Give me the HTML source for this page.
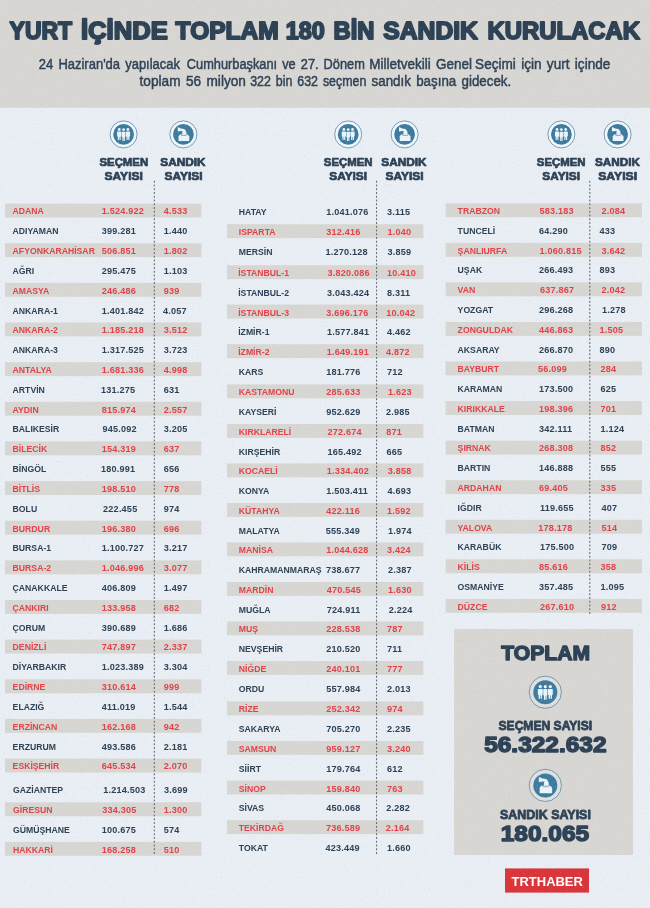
<!DOCTYPE html>
<html lang="tr">
<head>
<meta charset="utf-8">
<title>Yurt içinde toplam 180 bin sandık kurulacak</title>
<style>
html,body{margin:0;padding:0;background:#e8eef3;}
body{width:650px;height:908px;overflow:hidden;}
svg{display:block;will-change:transform;}
text{font-family:"Liberation Sans",sans-serif;font-weight:bold;}
.t{font-size:23.6px;fill:#2e4256;stroke:#2e4256;stroke-width:1.8px;stroke-linejoin:round;}
.s{font-size:15.5px;word-spacing:1.8px;font-weight:normal;fill:#2e4256;stroke:#2e4256;stroke-width:0.5px;}
.h{font-size:11px;fill:#2e4256;stroke:#2e4256;stroke-width:0.7px;stroke-linejoin:round;}
.n{font-size:8.9px;letter-spacing:0.0px;}
.d{font-size:9.1px;letter-spacing:0.2px;}
.big{fill:#2e4256;stroke:#2e4256;stroke-width:1.4px;stroke-linejoin:round;}
.b1{font-size:20.8px;}
.b2{font-size:13.2px;stroke-width:0.8px;}
.b3{font-size:21.2px;}
.trt{font-size:13.6px;fill:#fff;}
</style>
</head>
<body>
<svg width="650" height="908" viewBox="0 0 650 908">
<defs><filter id="nz" x="0" y="0" width="100%" height="100%" color-interpolation-filters="sRGB"><feTurbulence type="fractalNoise" baseFrequency="0.75" numOctaves="2" seed="7"/><feColorMatrix type="matrix" values="0 0 0 0 0.42  0 0 0 0 0.45  0 0 0 0 0.5  6 0 0 0 -3.9"/></filter><filter id="nw" x="0" y="0" width="100%" height="100%" color-interpolation-filters="sRGB"><feTurbulence type="fractalNoise" baseFrequency="0.6" numOctaves="2" seed="23"/><feColorMatrix type="matrix" values="0 0 0 0 1  0 0 0 0 1  0 0 0 0 1  0 6 0 0 -3.9"/></filter></defs>
<rect x="0" y="0" width="650" height="908" fill="#e8eef3"/>
<rect x="0" y="0" width="650" height="107.8" fill="#d8d6d3"/>
<text x="9.60" y="38.60" class="t" textLength="62.51" lengthAdjust="spacingAndGlyphs">YURT</text>
<text x="81.01" y="38.60" class="t" textLength="86.76" lengthAdjust="spacingAndGlyphs">İÇİNDE</text>
<text x="175.64" y="38.60" class="t" textLength="103.07" lengthAdjust="spacingAndGlyphs">TOPLAM</text>
<text x="285.70" y="38.60" class="t" textLength="38.93" lengthAdjust="spacingAndGlyphs">180</text>
<text x="333.63" y="38.60" class="t" textLength="40.86" lengthAdjust="spacingAndGlyphs">BİN</text>
<text x="383.33" y="38.60" class="t" textLength="94.54" lengthAdjust="spacingAndGlyphs">SANDIK</text>
<text x="487.41" y="38.60" class="t" textLength="152.63" lengthAdjust="spacingAndGlyphs">KURULACAK</text>
<text x="38.84" y="69.15" class="s" textLength="141.21" lengthAdjust="spacingAndGlyphs">24 Haziran'da yapılacak</text>
<text x="186.83" y="69.15" class="s" textLength="178.02" lengthAdjust="spacingAndGlyphs">Cumhurbaşkanı ve 27. Dönem</text>
<text x="369.30" y="69.15" class="s" textLength="102.72" lengthAdjust="spacingAndGlyphs">Milletvekili Genel</text>
<text x="475.09" y="69.15" class="s" textLength="135.21" lengthAdjust="spacingAndGlyphs">Seçimi için yurt içinde</text>
<text x="139.56" y="85.55" class="s" textLength="106.43" lengthAdjust="spacingAndGlyphs">toplam 56 milyon</text>
<text x="250.20" y="85.55" class="s" textLength="116.22" lengthAdjust="spacingAndGlyphs">322 bin 632 seçmen</text>
<text x="371.54" y="85.55" class="s" textLength="139.72" lengthAdjust="spacingAndGlyphs">sandık başına gidecek.</text>
<g transform="translate(123.6,134.4)">
<circle r="13.5" fill="#eff8ff" fill-opacity="0.9" stroke="#5b859f" stroke-width="0.8"/>
<g transform="scale(1.0)"><circle r="10.4" fill="#3f7b9d"/>
<g fill="#e9f4fb" transform="scale(1.1)"><g transform="translate(-3.95,0)"><circle cx="0" cy="-4.45" r="1.3"/><path d="M-1.5,-2.55 h3 q0.45,0 0.45,0.5 v3.6 q0,0.45 -0.45,0.45 h-0.2 v3.1 h-1.05 v-2.6 h-0.5 v2.6 h-1.05 v-3.1 h-0.2 q-0.45,0 -0.45,-0.45 v-3.6 q0,-0.5 0.45,-0.5z"/></g><g transform="translate(3.95,0)"><circle cx="0" cy="-4.45" r="1.3"/><path d="M-1.5,-2.55 h3 q0.45,0 0.45,0.5 v3.6 q0,0.45 -0.45,0.45 h-0.2 v3.1 h-1.05 v-2.6 h-0.5 v2.6 h-1.05 v-3.1 h-0.2 q-0.45,0 -0.45,-0.45 v-3.6 q0,-0.5 0.45,-0.5z"/></g><g><circle cx="0" cy="-4.35" r="1.3"/><path d="M-1.2,-2.45 h2.4 q0.4,0 0.4,0.5 v4.2 q0,0.4 -0.4,0.4 h-0.1 v3.3 h-0.95 v-2.8 h-0.3 v2.8 h-0.95 v-3.3 h-0.1 q-0.4,0 -0.4,-0.4 v-4.2 q0,-0.5 0.4,-0.5z"/></g></g>
</g></g>
<g transform="translate(183.4,134.4)">
<circle r="13.5" fill="#eff8ff" fill-opacity="0.9" stroke="#5b859f" stroke-width="0.8"/>
<g transform="scale(1.0)"><circle r="10.4" fill="#3f7b9d"/>
<g fill="#e9f4fb">
<path d="M-3.6,0.2 H4.3 L5.9,2.1 V6.2 q0,0.5 -0.5,0.5 H-4.4 q-0.5,0 -0.5,-0.5 V2.1z"/>
<path d="M-5.6,-7.3 L-2.4,-5.9 L0.8,-5.5 Q2.2,-4.6 3.0,-2.2 V0.3 H-1.2 V-2.6 L-0.3,-3.2 L-2.4,-3.4 L-5.6,-2.9z"/>
</g>
<rect x="-2.3" y="1.0" width="5.6" height="0.5" fill="#3f7b9d"/>
</g></g>
<g transform="translate(348.2,134.4)">
<circle r="13.5" fill="#eff8ff" fill-opacity="0.9" stroke="#5b859f" stroke-width="0.8"/>
<g transform="scale(1.0)"><circle r="10.4" fill="#3f7b9d"/>
<g fill="#e9f4fb" transform="scale(1.1)"><g transform="translate(-3.95,0)"><circle cx="0" cy="-4.45" r="1.3"/><path d="M-1.5,-2.55 h3 q0.45,0 0.45,0.5 v3.6 q0,0.45 -0.45,0.45 h-0.2 v3.1 h-1.05 v-2.6 h-0.5 v2.6 h-1.05 v-3.1 h-0.2 q-0.45,0 -0.45,-0.45 v-3.6 q0,-0.5 0.45,-0.5z"/></g><g transform="translate(3.95,0)"><circle cx="0" cy="-4.45" r="1.3"/><path d="M-1.5,-2.55 h3 q0.45,0 0.45,0.5 v3.6 q0,0.45 -0.45,0.45 h-0.2 v3.1 h-1.05 v-2.6 h-0.5 v2.6 h-1.05 v-3.1 h-0.2 q-0.45,0 -0.45,-0.45 v-3.6 q0,-0.5 0.45,-0.5z"/></g><g><circle cx="0" cy="-4.35" r="1.3"/><path d="M-1.2,-2.45 h2.4 q0.4,0 0.4,0.5 v4.2 q0,0.4 -0.4,0.4 h-0.1 v3.3 h-0.95 v-2.8 h-0.3 v2.8 h-0.95 v-3.3 h-0.1 q-0.4,0 -0.4,-0.4 v-4.2 q0,-0.5 0.4,-0.5z"/></g></g>
</g></g>
<g transform="translate(404.6,134.4)">
<circle r="13.5" fill="#eff8ff" fill-opacity="0.9" stroke="#5b859f" stroke-width="0.8"/>
<g transform="scale(1.0)"><circle r="10.4" fill="#3f7b9d"/>
<g fill="#e9f4fb">
<path d="M-3.6,0.2 H4.3 L5.9,2.1 V6.2 q0,0.5 -0.5,0.5 H-4.4 q-0.5,0 -0.5,-0.5 V2.1z"/>
<path d="M-5.6,-7.3 L-2.4,-5.9 L0.8,-5.5 Q2.2,-4.6 3.0,-2.2 V0.3 H-1.2 V-2.6 L-0.3,-3.2 L-2.4,-3.4 L-5.6,-2.9z"/>
</g>
<rect x="-2.3" y="1.0" width="5.6" height="0.5" fill="#3f7b9d"/>
</g></g>
<g transform="translate(561.4,134.4)">
<circle r="13.5" fill="#eff8ff" fill-opacity="0.9" stroke="#5b859f" stroke-width="0.8"/>
<g transform="scale(1.0)"><circle r="10.4" fill="#3f7b9d"/>
<g fill="#e9f4fb" transform="scale(1.1)"><g transform="translate(-3.95,0)"><circle cx="0" cy="-4.45" r="1.3"/><path d="M-1.5,-2.55 h3 q0.45,0 0.45,0.5 v3.6 q0,0.45 -0.45,0.45 h-0.2 v3.1 h-1.05 v-2.6 h-0.5 v2.6 h-1.05 v-3.1 h-0.2 q-0.45,0 -0.45,-0.45 v-3.6 q0,-0.5 0.45,-0.5z"/></g><g transform="translate(3.95,0)"><circle cx="0" cy="-4.45" r="1.3"/><path d="M-1.5,-2.55 h3 q0.45,0 0.45,0.5 v3.6 q0,0.45 -0.45,0.45 h-0.2 v3.1 h-1.05 v-2.6 h-0.5 v2.6 h-1.05 v-3.1 h-0.2 q-0.45,0 -0.45,-0.45 v-3.6 q0,-0.5 0.45,-0.5z"/></g><g><circle cx="0" cy="-4.35" r="1.3"/><path d="M-1.2,-2.45 h2.4 q0.4,0 0.4,0.5 v4.2 q0,0.4 -0.4,0.4 h-0.1 v3.3 h-0.95 v-2.8 h-0.3 v2.8 h-0.95 v-3.3 h-0.1 q-0.4,0 -0.4,-0.4 v-4.2 q0,-0.5 0.4,-0.5z"/></g></g>
</g></g>
<g transform="translate(617.6,134.4)">
<circle r="13.5" fill="#eff8ff" fill-opacity="0.9" stroke="#5b859f" stroke-width="0.8"/>
<g transform="scale(1.0)"><circle r="10.4" fill="#3f7b9d"/>
<g fill="#e9f4fb">
<path d="M-3.6,0.2 H4.3 L5.9,2.1 V6.2 q0,0.5 -0.5,0.5 H-4.4 q-0.5,0 -0.5,-0.5 V2.1z"/>
<path d="M-5.6,-7.3 L-2.4,-5.9 L0.8,-5.5 Q2.2,-4.6 3.0,-2.2 V0.3 H-1.2 V-2.6 L-0.3,-3.2 L-2.4,-3.4 L-5.6,-2.9z"/>
</g>
<rect x="-2.3" y="1.0" width="5.6" height="0.5" fill="#3f7b9d"/>
</g></g>
<text x="99.46" y="165.70" class="h" textLength="48.70" lengthAdjust="spacingAndGlyphs">SEÇMEN</text>
<text x="104.51" y="180.10" class="h" textLength="38.34" lengthAdjust="spacingAndGlyphs">SAYISI</text>
<text x="160.29" y="165.70" class="h" textLength="45.34" lengthAdjust="spacingAndGlyphs">SANDIK</text>
<text x="164.43" y="180.10" class="h" textLength="38.06" lengthAdjust="spacingAndGlyphs">SAYISI</text>
<text x="323.85" y="165.70" class="h" textLength="48.71" lengthAdjust="spacingAndGlyphs">SEÇMEN</text>
<text x="329.28" y="180.10" class="h" textLength="37.74" lengthAdjust="spacingAndGlyphs">SAYISI</text>
<text x="381.29" y="165.70" class="h" textLength="45.34" lengthAdjust="spacingAndGlyphs">SANDIK</text>
<text x="385.43" y="180.10" class="h" textLength="38.06" lengthAdjust="spacingAndGlyphs">SAYISI</text>
<text x="536.85" y="165.70" class="h" textLength="48.71" lengthAdjust="spacingAndGlyphs">SEÇMEN</text>
<text x="542.28" y="180.10" class="h" textLength="37.74" lengthAdjust="spacingAndGlyphs">SAYISI</text>
<text x="595.04" y="165.70" class="h" textLength="44.88" lengthAdjust="spacingAndGlyphs">SANDIK</text>
<text x="598.25" y="180.10" class="h" textLength="38.81" lengthAdjust="spacingAndGlyphs">SAYISI</text>
<rect x="5.0" y="203.6" width="196.4" height="13.9" fill="#d8d6d2"/>
<rect x="5.0" y="243.2" width="196.4" height="13.9" fill="#d8d6d2"/>
<rect x="5.0" y="282.9" width="196.4" height="13.9" fill="#d8d6d2"/>
<rect x="5.0" y="322.5" width="196.4" height="13.9" fill="#d8d6d2"/>
<rect x="5.0" y="362.2" width="196.4" height="13.9" fill="#d8d6d2"/>
<rect x="5.0" y="401.8" width="196.4" height="13.9" fill="#d8d6d2"/>
<rect x="5.0" y="441.4" width="196.4" height="13.9" fill="#d8d6d2"/>
<rect x="5.0" y="481.1" width="196.4" height="13.9" fill="#d8d6d2"/>
<rect x="5.0" y="520.7" width="196.4" height="13.9" fill="#d8d6d2"/>
<rect x="5.0" y="560.4" width="196.4" height="13.9" fill="#d8d6d2"/>
<rect x="5.0" y="600.0" width="196.4" height="13.9" fill="#d8d6d2"/>
<rect x="5.0" y="639.6" width="196.4" height="13.9" fill="#d8d6d2"/>
<rect x="5.0" y="679.3" width="196.4" height="13.9" fill="#d8d6d2"/>
<rect x="5.0" y="718.9" width="196.4" height="13.9" fill="#d8d6d2"/>
<rect x="5.0" y="758.6" width="196.4" height="13.9" fill="#d8d6d2"/>
<rect x="5.0" y="802.3" width="196.4" height="13.9" fill="#d8d6d2"/>
<rect x="5.0" y="841.9" width="196.4" height="13.9" fill="#d8d6d2"/>
<text transform="translate(12.6,214.4) scale(0.975,1.06)" class="n" fill="#e1424a">ADANA</text>
<text transform="translate(101.7,214.4) scale(1,1.08)" class="d" fill="#e1424a">1.524.922</text>
<text transform="translate(163.7,214.4) scale(1,1.08)" class="d" fill="#e1424a">4.533</text>
<text transform="translate(12.6,234.2) scale(0.975,1.06)" class="n" fill="#2e4256">ADIYAMAN</text>
<text transform="translate(101.7,234.2) scale(1,1.08)" class="d" fill="#2e4256">399.281</text>
<text transform="translate(163.7,234.2) scale(1,1.08)" class="d" fill="#2e4256">1.440</text>
<text transform="translate(12.6,254.0) scale(0.975,1.06)" class="n" fill="#e1424a">AFYONKARAHİSAR</text>
<text transform="translate(101.7,254.0) scale(1,1.08)" class="d" fill="#e1424a">506.851</text>
<text transform="translate(163.7,254.0) scale(1,1.08)" class="d" fill="#e1424a">1.802</text>
<text transform="translate(12.6,273.9) scale(0.975,1.06)" class="n" fill="#2e4256">AĞRI</text>
<text transform="translate(101.7,273.9) scale(1,1.08)" class="d" fill="#2e4256">295.475</text>
<text transform="translate(163.7,273.9) scale(1,1.08)" class="d" fill="#2e4256">1.103</text>
<text transform="translate(12.6,293.7) scale(0.975,1.06)" class="n" fill="#e1424a">AMASYA</text>
<text transform="translate(101.7,293.7) scale(1,1.08)" class="d" fill="#e1424a">246.486</text>
<text transform="translate(163.7,293.7) scale(1,1.08)" class="d" fill="#e1424a">939</text>
<text transform="translate(12.6,313.5) scale(0.975,1.06)" class="n" fill="#2e4256">ANKARA-1</text>
<text transform="translate(101.7,313.5) scale(1,1.08)" class="d" fill="#2e4256">1.401.842</text>
<text transform="translate(162.9,313.5) scale(1,1.08)" class="d" fill="#2e4256">4.057</text>
<text transform="translate(12.6,333.3) scale(0.975,1.06)" class="n" fill="#e1424a">ANKARA-2</text>
<text transform="translate(101.7,333.3) scale(1,1.08)" class="d" fill="#e1424a">1.185.218</text>
<text transform="translate(163.7,333.3) scale(1,1.08)" class="d" fill="#e1424a">3.512</text>
<text transform="translate(12.6,353.1) scale(0.975,1.06)" class="n" fill="#2e4256">ANKARA-3</text>
<text transform="translate(101.7,353.1) scale(1,1.08)" class="d" fill="#2e4256">1.317.525</text>
<text transform="translate(163.7,353.1) scale(1,1.08)" class="d" fill="#2e4256">3.723</text>
<text transform="translate(12.6,373.0) scale(0.975,1.06)" class="n" fill="#e1424a">ANTALYA</text>
<text transform="translate(101.7,373.0) scale(1,1.08)" class="d" fill="#e1424a">1.681.336</text>
<text transform="translate(163.7,373.0) scale(1,1.08)" class="d" fill="#e1424a">4.998</text>
<text transform="translate(12.6,392.8) scale(0.975,1.06)" class="n" fill="#2e4256">ARTVİN</text>
<text transform="translate(101.0,392.8) scale(1,1.08)" class="d" fill="#2e4256">131.275</text>
<text transform="translate(163.7,392.8) scale(1,1.08)" class="d" fill="#2e4256">631</text>
<text transform="translate(12.6,412.6) scale(0.975,1.06)" class="n" fill="#e1424a">AYDIN</text>
<text transform="translate(101.7,412.6) scale(1,1.08)" class="d" fill="#e1424a">815.974</text>
<text transform="translate(163.7,412.6) scale(1,1.08)" class="d" fill="#e1424a">2.557</text>
<text transform="translate(12.6,432.4) scale(0.975,1.06)" class="n" fill="#2e4256">BALIKESİR</text>
<text transform="translate(102.5,432.4) scale(1,1.08)" class="d" fill="#2e4256">945.092</text>
<text transform="translate(163.7,432.4) scale(1,1.08)" class="d" fill="#2e4256">3.205</text>
<text transform="translate(12.6,452.2) scale(0.975,1.06)" class="n" fill="#e1424a">BİLECİK</text>
<text transform="translate(101.7,452.2) scale(1,1.08)" class="d" fill="#e1424a">154.319</text>
<text transform="translate(163.7,452.2) scale(1,1.08)" class="d" fill="#e1424a">637</text>
<text transform="translate(12.6,472.1) scale(0.975,1.06)" class="n" fill="#2e4256">BİNGÖL</text>
<text transform="translate(101.0,472.1) scale(1,1.08)" class="d" fill="#2e4256">180.991</text>
<text transform="translate(163.7,472.1) scale(1,1.08)" class="d" fill="#2e4256">656</text>
<text transform="translate(12.6,491.9) scale(0.975,1.06)" class="n" fill="#e1424a">BİTLİS</text>
<text transform="translate(101.7,491.9) scale(1,1.08)" class="d" fill="#e1424a">198.510</text>
<text transform="translate(163.7,491.9) scale(1,1.08)" class="d" fill="#e1424a">778</text>
<text transform="translate(12.6,511.7) scale(0.975,1.06)" class="n" fill="#2e4256">BOLU</text>
<text transform="translate(103.1,511.7) scale(1,1.08)" class="d" fill="#2e4256">222.455</text>
<text transform="translate(163.7,511.7) scale(1,1.08)" class="d" fill="#2e4256">974</text>
<text transform="translate(12.6,531.5) scale(0.975,1.06)" class="n" fill="#e1424a">BURDUR</text>
<text transform="translate(101.7,531.5) scale(1,1.08)" class="d" fill="#e1424a">196.380</text>
<text transform="translate(163.7,531.5) scale(1,1.08)" class="d" fill="#e1424a">696</text>
<text transform="translate(12.6,551.3) scale(0.975,1.06)" class="n" fill="#2e4256">BURSA-1</text>
<text transform="translate(101.7,551.3) scale(1,1.08)" class="d" fill="#2e4256">1.100.727</text>
<text transform="translate(163.7,551.3) scale(1,1.08)" class="d" fill="#2e4256">3.217</text>
<text transform="translate(12.6,571.2) scale(0.975,1.06)" class="n" fill="#e1424a">BURSA-2</text>
<text transform="translate(101.7,571.2) scale(1,1.08)" class="d" fill="#e1424a">1.046.996</text>
<text transform="translate(163.7,571.2) scale(1,1.08)" class="d" fill="#e1424a">3.077</text>
<text transform="translate(12.6,591.0) scale(0.975,1.06)" class="n" fill="#2e4256">ÇANAKKALE</text>
<text transform="translate(101.7,591.0) scale(1,1.08)" class="d" fill="#2e4256">406.809</text>
<text transform="translate(163.7,591.0) scale(1,1.08)" class="d" fill="#2e4256">1.497</text>
<text transform="translate(12.6,610.8) scale(0.975,1.06)" class="n" fill="#e1424a">ÇANKIRI</text>
<text transform="translate(101.7,610.8) scale(1,1.08)" class="d" fill="#e1424a">133.958</text>
<text transform="translate(163.7,610.8) scale(1,1.08)" class="d" fill="#e1424a">682</text>
<text transform="translate(12.6,630.6) scale(0.975,1.06)" class="n" fill="#2e4256">ÇORUM</text>
<text transform="translate(101.7,630.6) scale(1,1.08)" class="d" fill="#2e4256">390.689</text>
<text transform="translate(163.7,630.6) scale(1,1.08)" class="d" fill="#2e4256">1.686</text>
<text transform="translate(12.6,650.4) scale(0.975,1.06)" class="n" fill="#e1424a">DENİZLİ</text>
<text transform="translate(101.7,650.4) scale(1,1.08)" class="d" fill="#e1424a">747.897</text>
<text transform="translate(163.7,650.4) scale(1,1.08)" class="d" fill="#e1424a">2.337</text>
<text transform="translate(12.6,670.3) scale(0.975,1.06)" class="n" fill="#2e4256">DİYARBAKIR</text>
<text transform="translate(101.7,670.3) scale(1,1.08)" class="d" fill="#2e4256">1.023.389</text>
<text transform="translate(163.7,670.3) scale(1,1.08)" class="d" fill="#2e4256">3.304</text>
<text transform="translate(12.6,690.1) scale(0.975,1.06)" class="n" fill="#e1424a">EDİRNE</text>
<text transform="translate(101.7,690.1) scale(1,1.08)" class="d" fill="#e1424a">310.614</text>
<text transform="translate(163.7,690.1) scale(1,1.08)" class="d" fill="#e1424a">999</text>
<text transform="translate(12.6,709.9) scale(0.975,1.06)" class="n" fill="#2e4256">ELAZIĞ</text>
<text transform="translate(101.7,709.9) scale(1,1.08)" class="d" fill="#2e4256">411.019</text>
<text transform="translate(163.7,709.9) scale(1,1.08)" class="d" fill="#2e4256">1.544</text>
<text transform="translate(12.6,729.7) scale(0.975,1.06)" class="n" fill="#e1424a">ERZİNCAN</text>
<text transform="translate(101.7,729.7) scale(1,1.08)" class="d" fill="#e1424a">162.168</text>
<text transform="translate(163.7,729.7) scale(1,1.08)" class="d" fill="#e1424a">942</text>
<text transform="translate(12.6,749.5) scale(0.975,1.06)" class="n" fill="#2e4256">ERZURUM</text>
<text transform="translate(101.7,749.5) scale(1,1.08)" class="d" fill="#2e4256">493.586</text>
<text transform="translate(163.7,749.5) scale(1,1.08)" class="d" fill="#2e4256">2.181</text>
<text transform="translate(12.6,769.4) scale(0.975,1.06)" class="n" fill="#e1424a">ESKİŞEHİR</text>
<text transform="translate(101.7,769.4) scale(1,1.08)" class="d" fill="#e1424a">645.534</text>
<text transform="translate(163.7,769.4) scale(1,1.08)" class="d" fill="#e1424a">2.070</text>
<text transform="translate(13.0,793.3) scale(0.975,1.06)" class="n" fill="#2e4256">GAZİANTEP</text>
<text transform="translate(103.2,793.3) scale(1,1.08)" class="d" fill="#2e4256">1.214.503</text>
<text transform="translate(164.1,793.3) scale(1,1.08)" class="d" fill="#2e4256">3.699</text>
<text transform="translate(13.0,813.1) scale(0.975,1.06)" class="n" fill="#e1424a">GİRESUN</text>
<text transform="translate(102.3,813.1) scale(1,1.08)" class="d" fill="#e1424a">334.305</text>
<text transform="translate(163.7,813.1) scale(1,1.08)" class="d" fill="#e1424a">1.300</text>
<text transform="translate(13.0,832.9) scale(0.975,1.06)" class="n" fill="#2e4256">GÜMÜŞHANE</text>
<text transform="translate(101.7,832.9) scale(1,1.08)" class="d" fill="#2e4256">100.675</text>
<text transform="translate(163.7,832.9) scale(1,1.08)" class="d" fill="#2e4256">574</text>
<text transform="translate(13.0,852.7) scale(0.975,1.06)" class="n" fill="#e1424a">HAKKARİ</text>
<text transform="translate(101.7,852.7) scale(1,1.08)" class="d" fill="#e1424a">168.258</text>
<text transform="translate(163.7,852.7) scale(1,1.08)" class="d" fill="#e1424a">510</text>
<rect x="227.0" y="224.2" width="196.4" height="13.9" fill="#d8d6d2"/>
<rect x="227.0" y="265.2" width="196.4" height="13.9" fill="#d8d6d2"/>
<rect x="227.0" y="304.6" width="196.4" height="13.9" fill="#d8d6d2"/>
<rect x="227.0" y="344.2" width="196.4" height="13.9" fill="#d8d6d2"/>
<rect x="227.0" y="384.4" width="196.4" height="13.9" fill="#d8d6d2"/>
<rect x="227.0" y="424.0" width="196.4" height="13.9" fill="#d8d6d2"/>
<rect x="227.0" y="463.4" width="196.4" height="13.9" fill="#d8d6d2"/>
<rect x="227.0" y="503.0" width="196.4" height="13.9" fill="#d8d6d2"/>
<rect x="227.0" y="542.4" width="196.4" height="13.9" fill="#d8d6d2"/>
<rect x="227.0" y="582.0" width="196.4" height="13.9" fill="#d8d6d2"/>
<rect x="227.0" y="621.4" width="196.4" height="13.9" fill="#d8d6d2"/>
<rect x="227.0" y="661.0" width="196.4" height="13.9" fill="#d8d6d2"/>
<rect x="227.0" y="701.4" width="196.4" height="13.9" fill="#d8d6d2"/>
<rect x="227.0" y="741.0" width="196.4" height="13.9" fill="#d8d6d2"/>
<rect x="227.0" y="780.6" width="196.4" height="13.9" fill="#d8d6d2"/>
<rect x="227.0" y="820.2" width="196.4" height="13.9" fill="#d8d6d2"/>
<text transform="translate(238.8,215.1) scale(0.975,1.06)" class="n" fill="#2e4256">HATAY</text>
<text transform="translate(326.3,215.1) scale(1,1.08)" class="d" fill="#2e4256">1.041.076</text>
<text transform="translate(387.1,215.1) scale(1,1.08)" class="d" fill="#2e4256">3.115</text>
<text transform="translate(238.8,235.1) scale(0.975,1.06)" class="n" fill="#e1424a">ISPARTA</text>
<text transform="translate(326.3,235.1) scale(1,1.08)" class="d" fill="#e1424a">312.416</text>
<text transform="translate(387.6,235.1) scale(1,1.08)" class="d" fill="#e1424a">1.040</text>
<text transform="translate(238.8,254.5) scale(0.975,1.06)" class="n" fill="#2e4256">MERSİN</text>
<text transform="translate(325.4,254.5) scale(1,1.08)" class="d" fill="#2e4256">1.270.128</text>
<text transform="translate(387.6,254.5) scale(1,1.08)" class="d" fill="#2e4256">3.859</text>
<text transform="translate(238.2,276.1) scale(0.975,1.06)" class="n" fill="#e1424a">İSTANBUL-1</text>
<text transform="translate(327.6,276.1) scale(1,1.08)" class="d" fill="#e1424a">3.820.086</text>
<text transform="translate(387.1,276.1) scale(1,1.08)" class="d" fill="#e1424a">10.410</text>
<text transform="translate(238.2,295.5) scale(0.975,1.06)" class="n" fill="#2e4256">İSTANBUL-2</text>
<text transform="translate(326.9,295.5) scale(1,1.08)" class="d" fill="#2e4256">3.043.424</text>
<text transform="translate(387.1,295.5) scale(1,1.08)" class="d" fill="#2e4256">8.311</text>
<text transform="translate(238.2,315.5) scale(0.975,1.06)" class="n" fill="#e1424a">İSTANBUL-3</text>
<text transform="translate(326.3,315.5) scale(1,1.08)" class="d" fill="#e1424a">3.696.176</text>
<text transform="translate(386.3,315.5) scale(1,1.08)" class="d" fill="#e1424a">10.042</text>
<text transform="translate(238.2,335.1) scale(0.975,1.06)" class="n" fill="#2e4256">İZMİR-1</text>
<text transform="translate(327.1,335.1) scale(1,1.08)" class="d" fill="#2e4256">1.577.841</text>
<text transform="translate(387.1,335.1) scale(1,1.08)" class="d" fill="#2e4256">4.462</text>
<text transform="translate(238.2,355.1) scale(0.975,1.06)" class="n" fill="#e1424a">İZMİR-2</text>
<text transform="translate(326.8,355.1) scale(1,1.08)" class="d" fill="#e1424a">1.649.191</text>
<text transform="translate(386.1,355.1) scale(1,1.08)" class="d" fill="#e1424a">4.872</text>
<text transform="translate(238.8,374.9) scale(0.975,1.06)" class="n" fill="#2e4256">KARS</text>
<text transform="translate(326.3,374.9) scale(1,1.08)" class="d" fill="#2e4256">181.776</text>
<text transform="translate(387.1,374.9) scale(1,1.08)" class="d" fill="#2e4256">712</text>
<text transform="translate(238.8,395.3) scale(0.975,1.06)" class="n" fill="#e1424a">KASTAMONU</text>
<text transform="translate(326.3,395.3) scale(1,1.08)" class="d" fill="#e1424a">285.633</text>
<text transform="translate(388.0,395.3) scale(1,1.08)" class="d" fill="#e1424a">1.623</text>
<text transform="translate(238.8,414.9) scale(0.975,1.06)" class="n" fill="#2e4256">KAYSERİ</text>
<text transform="translate(326.3,414.9) scale(1,1.08)" class="d" fill="#2e4256">952.629</text>
<text transform="translate(386.1,414.9) scale(1,1.08)" class="d" fill="#2e4256">2.985</text>
<text transform="translate(238.8,434.9) scale(0.975,1.06)" class="n" fill="#e1424a">KIRKLARELİ</text>
<text transform="translate(327.4,434.9) scale(1,1.08)" class="d" fill="#e1424a">272.674</text>
<text transform="translate(386.2,434.9) scale(1,1.08)" class="d" fill="#e1424a">871</text>
<text transform="translate(238.8,454.5) scale(0.975,1.06)" class="n" fill="#2e4256">KIRŞEHİR</text>
<text transform="translate(327.4,454.5) scale(1,1.08)" class="d" fill="#2e4256">165.492</text>
<text transform="translate(386.6,454.5) scale(1,1.08)" class="d" fill="#2e4256">665</text>
<text transform="translate(238.8,474.3) scale(0.975,1.06)" class="n" fill="#e1424a">KOCAELİ</text>
<text transform="translate(326.7,474.3) scale(1,1.08)" class="d" fill="#e1424a">1.334.402</text>
<text transform="translate(387.8,474.3) scale(1,1.08)" class="d" fill="#e1424a">3.858</text>
<text transform="translate(238.8,493.9) scale(0.975,1.06)" class="n" fill="#2e4256">KONYA</text>
<text transform="translate(326.3,493.9) scale(1,1.08)" class="d" fill="#2e4256">1.503.411</text>
<text transform="translate(387.6,493.9) scale(1,1.08)" class="d" fill="#2e4256">4.693</text>
<text transform="translate(238.8,513.9) scale(0.975,1.06)" class="n" fill="#e1424a">KÜTAHYA</text>
<text transform="translate(326.3,513.9) scale(1,1.08)" class="d" fill="#e1424a">422.116</text>
<text transform="translate(387.1,513.9) scale(1,1.08)" class="d" fill="#e1424a">1.592</text>
<text transform="translate(238.8,533.7) scale(0.975,1.06)" class="n" fill="#2e4256">MALATYA</text>
<text transform="translate(325.8,533.7) scale(1,1.08)" class="d" fill="#2e4256">555.349</text>
<text transform="translate(387.9,533.7) scale(1,1.08)" class="d" fill="#2e4256">1.974</text>
<text transform="translate(238.8,553.3) scale(0.975,1.06)" class="n" fill="#e1424a">MANİSA</text>
<text transform="translate(326.3,553.3) scale(1,1.08)" class="d" fill="#e1424a">1.044.628</text>
<text transform="translate(387.1,553.3) scale(1,1.08)" class="d" fill="#e1424a">3.424</text>
<text transform="translate(238.8,572.9) scale(0.975,1.06)" class="n" fill="#2e4256">KAHRAMANMARAŞ</text>
<text transform="translate(325.9,572.9) scale(1,1.08)" class="d" fill="#2e4256">738.677</text>
<text transform="translate(388.0,572.9) scale(1,1.08)" class="d" fill="#2e4256">2.387</text>
<text transform="translate(238.8,592.9) scale(0.975,1.06)" class="n" fill="#e1424a">MARDİN</text>
<text transform="translate(326.8,592.9) scale(1,1.08)" class="d" fill="#e1424a">470.545</text>
<text transform="translate(388.0,592.9) scale(1,1.08)" class="d" fill="#e1424a">1.630</text>
<text transform="translate(238.8,612.5) scale(0.975,1.06)" class="n" fill="#2e4256">MUĞLA</text>
<text transform="translate(326.8,612.5) scale(1,1.08)" class="d" fill="#2e4256">724.911</text>
<text transform="translate(388.7,612.5) scale(1,1.08)" class="d" fill="#2e4256">2.224</text>
<text transform="translate(238.8,632.3) scale(0.975,1.06)" class="n" fill="#e1424a">MUŞ</text>
<text transform="translate(326.3,632.3) scale(1,1.08)" class="d" fill="#e1424a">228.538</text>
<text transform="translate(387.1,632.3) scale(1,1.08)" class="d" fill="#e1424a">787</text>
<text transform="translate(238.8,652.1) scale(0.975,1.06)" class="n" fill="#2e4256">NEVŞEHİR</text>
<text transform="translate(326.3,652.1) scale(1,1.08)" class="d" fill="#2e4256">210.520</text>
<text transform="translate(387.1,652.1) scale(1,1.08)" class="d" fill="#2e4256">711</text>
<text transform="translate(238.8,671.9) scale(0.975,1.06)" class="n" fill="#e1424a">NİĞDE</text>
<text transform="translate(326.3,671.9) scale(1,1.08)" class="d" fill="#e1424a">240.101</text>
<text transform="translate(387.1,671.9) scale(1,1.08)" class="d" fill="#e1424a">777</text>
<text transform="translate(238.8,691.5) scale(0.975,1.06)" class="n" fill="#2e4256">ORDU</text>
<text transform="translate(326.3,691.5) scale(1,1.08)" class="d" fill="#2e4256">557.984</text>
<text transform="translate(387.1,691.5) scale(1,1.08)" class="d" fill="#2e4256">2.013</text>
<text transform="translate(238.8,712.3) scale(0.975,1.06)" class="n" fill="#e1424a">RİZE</text>
<text transform="translate(326.3,712.3) scale(1,1.08)" class="d" fill="#e1424a">252.342</text>
<text transform="translate(387.1,712.3) scale(1,1.08)" class="d" fill="#e1424a">974</text>
<text transform="translate(238.8,732.3) scale(0.975,1.06)" class="n" fill="#2e4256">SAKARYA</text>
<text transform="translate(326.3,732.3) scale(1,1.08)" class="d" fill="#2e4256">705.270</text>
<text transform="translate(387.1,732.3) scale(1,1.08)" class="d" fill="#2e4256">2.235</text>
<text transform="translate(238.8,751.9) scale(0.975,1.06)" class="n" fill="#e1424a">SAMSUN</text>
<text transform="translate(326.3,751.9) scale(1,1.08)" class="d" fill="#e1424a">959.127</text>
<text transform="translate(387.1,751.9) scale(1,1.08)" class="d" fill="#e1424a">3.240</text>
<text transform="translate(238.8,771.5) scale(0.975,1.06)" class="n" fill="#2e4256">SİİRT</text>
<text transform="translate(326.3,771.5) scale(1,1.08)" class="d" fill="#2e4256">179.764</text>
<text transform="translate(387.1,771.5) scale(1,1.08)" class="d" fill="#2e4256">612</text>
<text transform="translate(238.8,791.5) scale(0.975,1.06)" class="n" fill="#e1424a">SİNOP</text>
<text transform="translate(326.3,791.5) scale(1,1.08)" class="d" fill="#e1424a">159.840</text>
<text transform="translate(387.1,791.5) scale(1,1.08)" class="d" fill="#e1424a">763</text>
<text transform="translate(238.8,811.1) scale(0.975,1.06)" class="n" fill="#2e4256">SİVAS</text>
<text transform="translate(326.3,811.1) scale(1,1.08)" class="d" fill="#2e4256">450.068</text>
<text transform="translate(386.3,811.1) scale(1,1.08)" class="d" fill="#2e4256">2.282</text>
<text transform="translate(238.8,831.1) scale(0.975,1.06)" class="n" fill="#e1424a">TEKİRDAĞ</text>
<text transform="translate(325.9,831.1) scale(1,1.08)" class="d" fill="#e1424a">736.589</text>
<text transform="translate(385.8,831.1) scale(1,1.08)" class="d" fill="#e1424a">2.164</text>
<text transform="translate(238.8,850.9) scale(0.975,1.06)" class="n" fill="#2e4256">TOKAT</text>
<text transform="translate(325.5,850.9) scale(1,1.08)" class="d" fill="#2e4256">423.449</text>
<text transform="translate(387.1,850.9) scale(1,1.08)" class="d" fill="#2e4256">1.660</text>
<rect x="445.6" y="203.3" width="196.4" height="13.9" fill="#d8d6d2"/>
<rect x="445.6" y="242.9" width="196.4" height="13.9" fill="#d8d6d2"/>
<rect x="445.6" y="282.4" width="196.4" height="13.9" fill="#d8d6d2"/>
<rect x="445.6" y="322.0" width="196.4" height="13.9" fill="#d8d6d2"/>
<rect x="445.6" y="361.5" width="196.4" height="13.9" fill="#d8d6d2"/>
<rect x="445.6" y="401.1" width="196.4" height="13.9" fill="#d8d6d2"/>
<rect x="445.6" y="440.7" width="196.4" height="13.9" fill="#d8d6d2"/>
<rect x="445.6" y="480.2" width="196.4" height="13.9" fill="#d8d6d2"/>
<rect x="445.6" y="519.8" width="196.4" height="13.9" fill="#d8d6d2"/>
<rect x="445.6" y="559.3" width="196.4" height="13.9" fill="#d8d6d2"/>
<rect x="445.6" y="598.9" width="196.4" height="13.9" fill="#d8d6d2"/>
<text transform="translate(457.6,214.0) scale(0.975,1.06)" class="n" fill="#e1424a">TRABZON</text>
<text transform="translate(539.4,214.0) scale(1,1.08)" class="d" fill="#e1424a">583.183</text>
<text transform="translate(601.6,214.0) scale(1,1.08)" class="d" fill="#e1424a">2.084</text>
<text transform="translate(457.6,233.8) scale(0.975,1.06)" class="n" fill="#2e4256">TUNCELİ</text>
<text transform="translate(539.0,233.8) scale(1,1.08)" class="d" fill="#2e4256">64.290</text>
<text transform="translate(599.6,233.8) scale(1,1.08)" class="d" fill="#2e4256">433</text>
<text transform="translate(457.6,253.6) scale(0.975,1.06)" class="n" fill="#e1424a">ŞANLIURFA</text>
<text transform="translate(539.4,253.6) scale(1,1.08)" class="d" fill="#e1424a">1.060.815</text>
<text transform="translate(601.6,253.6) scale(1,1.08)" class="d" fill="#e1424a">3.642</text>
<text transform="translate(457.6,273.3) scale(0.975,1.06)" class="n" fill="#2e4256">UŞAK</text>
<text transform="translate(539.0,273.3) scale(1,1.08)" class="d" fill="#2e4256">266.493</text>
<text transform="translate(599.6,273.3) scale(1,1.08)" class="d" fill="#2e4256">893</text>
<text transform="translate(457.6,293.1) scale(0.975,1.06)" class="n" fill="#e1424a">VAN</text>
<text transform="translate(540.0,293.1) scale(1,1.08)" class="d" fill="#e1424a">637.867</text>
<text transform="translate(601.4,293.1) scale(1,1.08)" class="d" fill="#e1424a">2.042</text>
<text transform="translate(457.6,312.9) scale(0.975,1.06)" class="n" fill="#2e4256">YOZGAT</text>
<text transform="translate(539.0,312.9) scale(1,1.08)" class="d" fill="#2e4256">296.268</text>
<text transform="translate(602.0,312.9) scale(1,1.08)" class="d" fill="#2e4256">1.278</text>
<text transform="translate(457.6,332.7) scale(0.975,1.06)" class="n" fill="#e1424a">ZONGULDAK</text>
<text transform="translate(539.0,332.7) scale(1,1.08)" class="d" fill="#e1424a">446.863</text>
<text transform="translate(599.6,332.7) scale(1,1.08)" class="d" fill="#e1424a">1.505</text>
<text transform="translate(457.6,352.5) scale(0.975,1.06)" class="n" fill="#2e4256">AKSARAY</text>
<text transform="translate(539.0,352.5) scale(1,1.08)" class="d" fill="#2e4256">266.870</text>
<text transform="translate(599.6,352.5) scale(1,1.08)" class="d" fill="#2e4256">890</text>
<text transform="translate(457.6,372.2) scale(0.975,1.06)" class="n" fill="#e1424a">BAYBURT</text>
<text transform="translate(538.0,372.2) scale(1,1.08)" class="d" fill="#e1424a">56.099</text>
<text transform="translate(600.5,372.2) scale(1,1.08)" class="d" fill="#e1424a">284</text>
<text transform="translate(457.6,392.0) scale(0.975,1.06)" class="n" fill="#2e4256">KARAMAN</text>
<text transform="translate(539.0,392.0) scale(1,1.08)" class="d" fill="#2e4256">173.500</text>
<text transform="translate(600.5,392.0) scale(1,1.08)" class="d" fill="#2e4256">625</text>
<text transform="translate(457.6,411.8) scale(0.975,1.06)" class="n" fill="#e1424a">KIRIKKALE</text>
<text transform="translate(539.0,411.8) scale(1,1.08)" class="d" fill="#e1424a">198.396</text>
<text transform="translate(600.5,411.8) scale(1,1.08)" class="d" fill="#e1424a">701</text>
<text transform="translate(457.6,431.6) scale(0.975,1.06)" class="n" fill="#2e4256">BATMAN</text>
<text transform="translate(539.0,431.6) scale(1,1.08)" class="d" fill="#2e4256">342.111</text>
<text transform="translate(600.5,431.6) scale(1,1.08)" class="d" fill="#2e4256">1.124</text>
<text transform="translate(457.6,451.4) scale(0.975,1.06)" class="n" fill="#e1424a">ŞIRNAK</text>
<text transform="translate(539.0,451.4) scale(1,1.08)" class="d" fill="#e1424a">268.308</text>
<text transform="translate(600.5,451.4) scale(1,1.08)" class="d" fill="#e1424a">852</text>
<text transform="translate(457.6,471.1) scale(0.975,1.06)" class="n" fill="#2e4256">BARTIN</text>
<text transform="translate(539.0,471.1) scale(1,1.08)" class="d" fill="#2e4256">146.888</text>
<text transform="translate(600.5,471.1) scale(1,1.08)" class="d" fill="#2e4256">555</text>
<text transform="translate(457.6,490.9) scale(0.975,1.06)" class="n" fill="#e1424a">ARDAHAN</text>
<text transform="translate(539.0,490.9) scale(1,1.08)" class="d" fill="#e1424a">69.405</text>
<text transform="translate(600.5,490.9) scale(1,1.08)" class="d" fill="#e1424a">335</text>
<text transform="translate(457.6,510.7) scale(0.975,1.06)" class="n" fill="#2e4256">IĞDIR</text>
<text transform="translate(540.0,510.7) scale(1,1.08)" class="d" fill="#2e4256">119.655</text>
<text transform="translate(601.6,510.7) scale(1,1.08)" class="d" fill="#2e4256">407</text>
<text transform="translate(457.6,530.5) scale(0.975,1.06)" class="n" fill="#e1424a">YALOVA</text>
<text transform="translate(538.3,530.5) scale(1,1.08)" class="d" fill="#e1424a">178.178</text>
<text transform="translate(601.6,530.5) scale(1,1.08)" class="d" fill="#e1424a">514</text>
<text transform="translate(457.6,550.3) scale(0.975,1.06)" class="n" fill="#2e4256">KARABÜK</text>
<text transform="translate(540.0,550.3) scale(1,1.08)" class="d" fill="#2e4256">175.500</text>
<text transform="translate(601.6,550.3) scale(1,1.08)" class="d" fill="#2e4256">709</text>
<text transform="translate(457.6,570.0) scale(0.975,1.06)" class="n" fill="#e1424a">KİLİS</text>
<text transform="translate(539.0,570.0) scale(1,1.08)" class="d" fill="#e1424a">85.616</text>
<text transform="translate(600.5,570.0) scale(1,1.08)" class="d" fill="#e1424a">358</text>
<text transform="translate(457.6,589.8) scale(0.975,1.06)" class="n" fill="#2e4256">OSMANİYE</text>
<text transform="translate(539.0,589.8) scale(1,1.08)" class="d" fill="#2e4256">357.485</text>
<text transform="translate(600.5,589.8) scale(1,1.08)" class="d" fill="#2e4256">1.095</text>
<text transform="translate(457.6,609.6) scale(0.975,1.06)" class="n" fill="#e1424a">DÜZCE</text>
<text transform="translate(540.0,609.6) scale(1,1.08)" class="d" fill="#e1424a">267.610</text>
<text transform="translate(601.0,609.6) scale(1,1.08)" class="d" fill="#e1424a">912</text>
<line x1="154.3" y1="180.8" x2="154.3" y2="854.6" stroke="#545e69" stroke-width="1" stroke-dasharray="1.9 1.85"/>
<line x1="376.6" y1="180.8" x2="376.6" y2="854.2" stroke="#545e69" stroke-width="1" stroke-dasharray="1.9 1.85"/>
<line x1="589.8" y1="180.8" x2="589.8" y2="614.6" stroke="#545e69" stroke-width="1" stroke-dasharray="1.9 1.85"/>
<rect x="454" y="629" width="179" height="226" fill="#d8d6d3"/>
<g transform="translate(545.3,692.2)">
<circle r="16.1" fill="#eff8ff" fill-opacity="0.32" stroke="#5b859f" stroke-width="0.8"/>
<g transform="scale(1.155)"><circle r="10.4" fill="#3f7b9d"/>
<g fill="#e9f4fb" transform="scale(1.1)"><g transform="translate(-3.95,0)"><circle cx="0" cy="-4.45" r="1.3"/><path d="M-1.5,-2.55 h3 q0.45,0 0.45,0.5 v3.6 q0,0.45 -0.45,0.45 h-0.2 v3.1 h-1.05 v-2.6 h-0.5 v2.6 h-1.05 v-3.1 h-0.2 q-0.45,0 -0.45,-0.45 v-3.6 q0,-0.5 0.45,-0.5z"/></g><g transform="translate(3.95,0)"><circle cx="0" cy="-4.45" r="1.3"/><path d="M-1.5,-2.55 h3 q0.45,0 0.45,0.5 v3.6 q0,0.45 -0.45,0.45 h-0.2 v3.1 h-1.05 v-2.6 h-0.5 v2.6 h-1.05 v-3.1 h-0.2 q-0.45,0 -0.45,-0.45 v-3.6 q0,-0.5 0.45,-0.5z"/></g><g><circle cx="0" cy="-4.35" r="1.3"/><path d="M-1.2,-2.45 h2.4 q0.4,0 0.4,0.5 v4.2 q0,0.4 -0.4,0.4 h-0.1 v3.3 h-0.95 v-2.8 h-0.3 v2.8 h-0.95 v-3.3 h-0.1 q-0.4,0 -0.4,-0.4 v-4.2 q0,-0.5 0.4,-0.5z"/></g></g>
</g></g>
<g transform="translate(545.3,785.4)">
<circle r="16.1" fill="#eff8ff" fill-opacity="0.32" stroke="#5b859f" stroke-width="0.8"/>
<g transform="scale(1.155)"><circle r="10.4" fill="#3f7b9d"/>
<g fill="#e9f4fb">
<path d="M-3.6,0.2 H4.3 L5.9,2.1 V6.2 q0,0.5 -0.5,0.5 H-4.4 q-0.5,0 -0.5,-0.5 V2.1z"/>
<path d="M-5.6,-7.3 L-2.4,-5.9 L0.8,-5.5 Q2.2,-4.6 3.0,-2.2 V0.3 H-1.2 V-2.6 L-0.3,-3.2 L-2.4,-3.4 L-5.6,-2.9z"/>
</g>
<rect x="-2.3" y="1.0" width="5.6" height="0.5" fill="#3f7b9d"/>
</g></g>
<rect x="505" y="868.4" width="84" height="24.2" fill="#d9353b"/>
<text x="501.37" y="659.90" class="big b1" textLength="88.63" lengthAdjust="spacingAndGlyphs">TOPLAM</text>
<text x="498.50" y="729.65" class="big b2" textLength="93.61" lengthAdjust="spacingAndGlyphs">SEÇMEN SAYISI</text>
<text x="484.17" y="752.40" class="big b3" textLength="122.41" lengthAdjust="spacingAndGlyphs">56.322.632</text>
<text x="499.99" y="818.95" class="big b2" textLength="90.88" lengthAdjust="spacingAndGlyphs">SANDIK SAYISI</text>
<text x="500.76" y="840.90" class="big b3" textLength="88.42" lengthAdjust="spacingAndGlyphs">180.065</text>
<text x="511.59" y="885.60" class="trt" textLength="71.31" lengthAdjust="spacingAndGlyphs">TRTHABER</text>
<rect x="0" y="0" width="650" height="908" filter="url(#nz)" opacity="0.10" pointer-events="none"/>
<rect x="0" y="0" width="650" height="908" filter="url(#nw)" opacity="0.12" pointer-events="none"/>
</svg>
</body>
</html>
